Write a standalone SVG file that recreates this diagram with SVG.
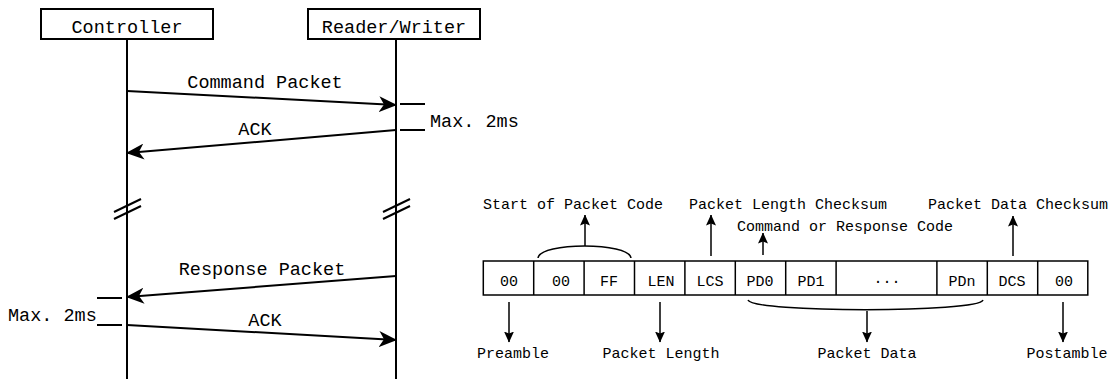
<svg xmlns="http://www.w3.org/2000/svg" width="1114" height="379" viewBox="0 0 1114 379">
<style>
text{font-family:"Liberation Mono","DejaVu Sans Mono",monospace;fill:#000}
.big{font-size:18.5px}
.sm{font-size:15px}
.cell{font-size:15px;text-anchor:middle}
.mid{text-anchor:middle}
.ln{stroke:#000;stroke-width:2;fill:none}
.thin{stroke:#000;stroke-width:1.5;fill:none}
.box{fill:#fff;stroke:#000;stroke-width:2}
.cbox{fill:#fff;stroke:#000;stroke-width:1.5}
</style>
<defs>
<marker id="big" viewBox="0 0 18 16" markerWidth="18" markerHeight="16" refX="17" refY="8" orient="auto" markerUnits="userSpaceOnUse">
<path d="M0,0 L18,8 L0,16 L5,8 z" fill="#000"/>
</marker>
<marker id="sm" viewBox="0 0 11 10" markerWidth="11" markerHeight="10" refX="10.5" refY="5" orient="auto" markerUnits="userSpaceOnUse">
<path d="M0,0 L11,5 L0,10 L2,5 z" fill="#000"/>
</marker>
</defs>
<rect width="1114" height="379" fill="#fff"/>

<g id="controller">
<rect class="box" x="41" y="9" width="172" height="30"/>
<text class="big mid" x="127" y="33">Controller</text>
<line class="ln" x1="127" y1="39" x2="127" y2="379"/>
<line class="ln" x1="114" y1="212" x2="141" y2="199"/>
<line class="ln" x1="114" y1="219" x2="141" y2="206"/>
</g>

<g id="reader-writer">
<rect class="box" x="308" y="9" width="172" height="30"/>
<text class="big mid" x="394" y="33">Reader/Writer</text>
<line class="ln" x1="396" y1="39" x2="396" y2="379"/>
<line class="ln" x1="383" y1="212" x2="410" y2="199"/>
<line class="ln" x1="383" y1="219" x2="410" y2="206"/>
</g>

<g id="timing">
<line class="ln" x1="400" y1="104" x2="425" y2="104"/>
<line class="ln" x1="400" y1="130" x2="425" y2="130"/>
<text class="big" x="430" y="127">Max. 2ms</text>
<line class="ln" x1="97" y1="298" x2="122" y2="298"/>
<line class="ln" x1="97" y1="325" x2="122" y2="325"/>
<text class="big" x="8" y="321">Max. 2ms</text>
</g>

<g id="messages">
<line class="ln" x1="127" y1="91" x2="396" y2="105" marker-end="url(#big)"/>
<text class="big mid" x="265" y="88">Command Packet</text>
<line class="ln" x1="396" y1="130" x2="127" y2="153" marker-end="url(#big)"/>
<text class="big mid" x="255" y="135">ACK</text>
<line class="ln" x1="396" y1="276" x2="127" y2="297" marker-end="url(#big)"/>
<text class="big mid" x="262" y="275">Response Packet</text>
<line class="ln" x1="127" y1="325" x2="396" y2="340" marker-end="url(#big)"/>
<text class="big mid" x="265" y="326">ACK</text>
</g>

<g id="packet">
<rect class="cbox" x="483.3" y="261" width="604.5" height="34"/>
<g class="thin">
<line x1="533.7" y1="261" x2="533.7" y2="295"/>
<line x1="584.1" y1="261" x2="584.1" y2="295"/>
<line x1="634.5" y1="261" x2="634.5" y2="295"/>
<line x1="684.9" y1="261" x2="684.9" y2="295"/>
<line x1="735.3" y1="261" x2="735.3" y2="295"/>
<line x1="785.7" y1="261" x2="785.7" y2="295"/>
<line x1="836.1" y1="261" x2="836.1" y2="295"/>
<line x1="936.9" y1="261" x2="936.9" y2="295"/>
<line x1="987.3" y1="261" x2="987.3" y2="295"/>
<line x1="1037.7" y1="261" x2="1037.7" y2="295"/>
</g>
<text class="cell" x="509" y="286">00</text>
<text class="cell" x="561" y="286">00</text>
<text class="cell" x="609" y="286">FF</text>
<text class="cell" x="661" y="286">LEN</text>
<text class="cell" x="710" y="286">LCS</text>
<text class="cell" x="760" y="286">PD0</text>
<text class="cell" x="811" y="286">PD1</text>
<text class="cell" x="887" y="286">···</text>
<text class="cell" x="962" y="286">PDn</text>
<text class="cell" x="1012" y="286">DCS</text>
<text class="cell" x="1064" y="286">00</text>
</g>

<g id="annotations">
<path class="thin" d="M538,258 C540,242 629,242 631,258"/>
<path class="thin" d="M748,300 C752,313 979,313 983,300"/>
<line class="thin" x1="585" y1="246" x2="585" y2="215" marker-end="url(#sm)"/>
<line class="thin" x1="711" y1="256" x2="711" y2="215" marker-end="url(#sm)"/>
<line class="thin" x1="763" y1="255" x2="763" y2="233" marker-end="url(#sm)"/>
<line class="thin" x1="1013" y1="256" x2="1013" y2="216" marker-end="url(#sm)"/>
<line class="thin" x1="509" y1="302" x2="509" y2="342" marker-end="url(#sm)"/>
<line class="thin" x1="660" y1="302" x2="660" y2="342" marker-end="url(#sm)"/>
<line class="thin" x1="867" y1="311" x2="867" y2="342" marker-end="url(#sm)"/>
<line class="thin" x1="1063" y1="302" x2="1063" y2="342" marker-end="url(#sm)"/>
<text class="sm mid" x="573" y="209">Start of Packet Code</text>
<text class="sm mid" x="788" y="209">Packet Length Checksum</text>
<text class="sm mid" x="845" y="231">Command or Response Code</text>
<text class="sm mid" x="1018" y="209">Packet Data Checksum</text>
<text class="sm mid" x="513" y="358">Preamble</text>
<text class="sm mid" x="661" y="358">Packet Length</text>
<text class="sm mid" x="867" y="358">Packet Data</text>
<text class="sm mid" x="1067" y="358">Postamble</text>
</g>
</svg>
